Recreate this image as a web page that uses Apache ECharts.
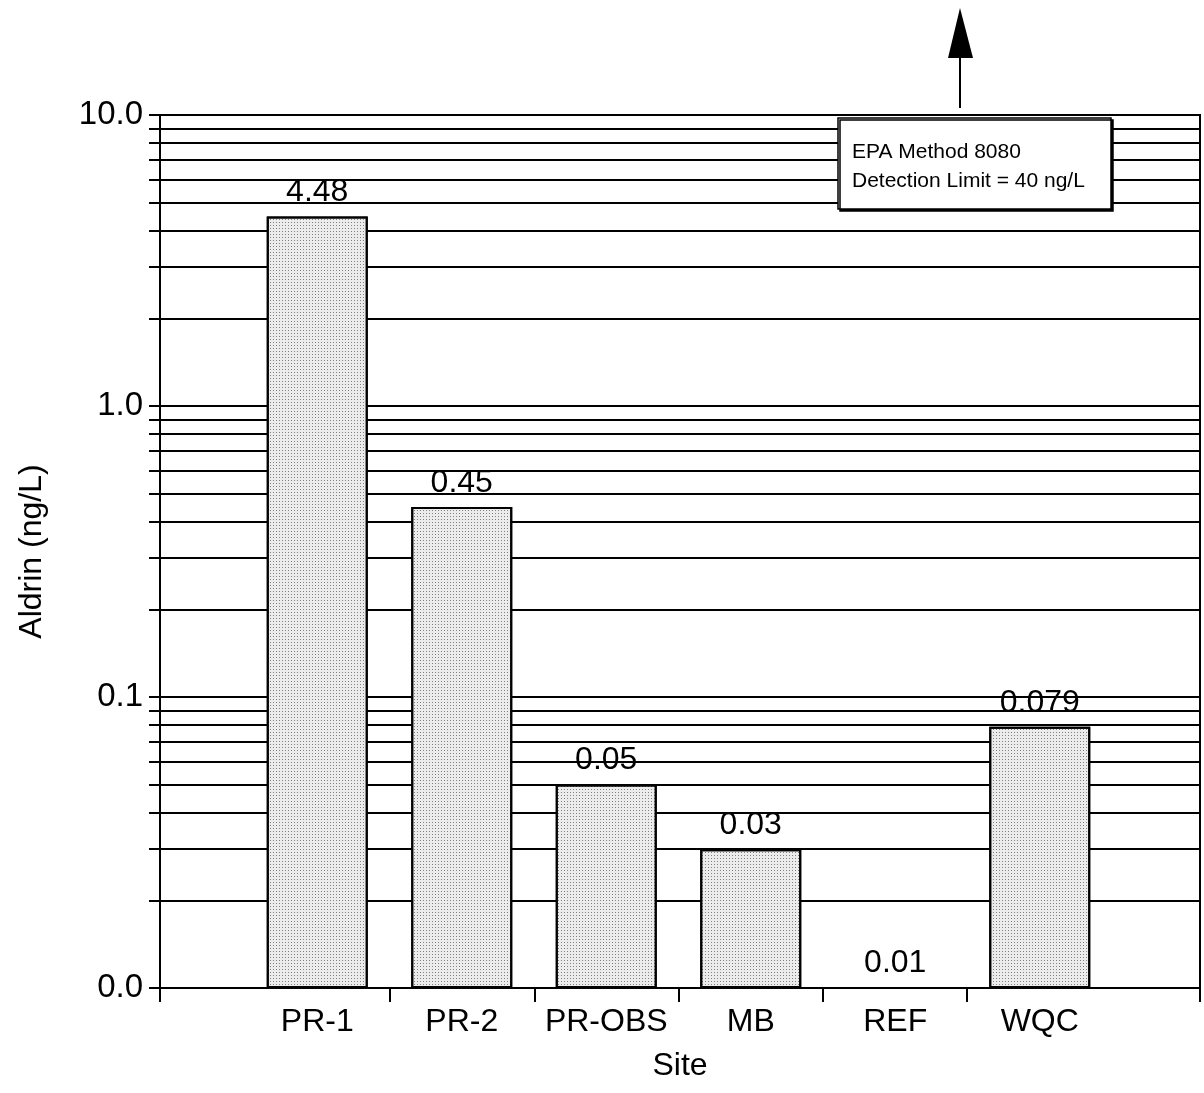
<!DOCTYPE html>
<html>
<head>
<meta charset="utf-8">
<style>
  html, body { margin: 0; padding: 0; background: #fff; }
  #chart-container { width: 1204px; height: 1093px; }
</style>
<script src="https://cdn.jsdelivr.net/npm/echarts@6/dist/echarts.min.js"></script>
</head>
<body>
<div id="chart-container"></div>
<script>
var sites = ['PR-1', 'PR-2', 'PR-OBS', 'MB', 'REF', 'WQC'];
var aldrin = [4.48, 0.45, 0.05, 0.03, 0.01, 0.079];
var yTickLabels = ['0.0', '0.1', '1.0', '10.0'];
var gridValues = [
  0.01, 0.02, 0.03, 0.04, 0.05, 0.06, 0.07, 0.08, 0.09,
  0.1, 0.2, 0.3, 0.4, 0.5, 0.6, 0.7, 0.8, 0.9,
  1, 2, 3, 4, 5, 6, 7, 8, 9, 10
];
var boundaryTicks = ['', '', '', '', ''];

var dom = document.getElementById('chart-container');
var myChart = echarts.init(dom, null, { renderer: 'canvas' });

var font = 'Liberation Sans, Arial, Helvetica, sans-serif';
var top_ = 115, bottom_ = 105;

var option = {
  animation: false,
  backgroundColor: '#fff',
  textStyle: { fontFamily: font, color: '#000' },
  grid: [
    // bars
    { left: 245, right: 92, top: top_, bottom: bottom_ },
    // horizontal rules (with ticks sticking out left)
    { left: 149, right: 4, top: top_, bottom: bottom_ },
    // frame and axes
    { left: 160, right: 4, top: top_, bottom: bottom_, show: true,
      borderColor: '#000', borderWidth: 2, backgroundColor: 'transparent' },
    // ticks between categories
    { left: 390, right: 237, top: top_, bottom: bottom_ }
  ],
  xAxis: [
    {
      gridIndex: 0,
      type: 'category',
      data: sites,
      boundaryGap: true,
      axisLine: { show: false },
      axisTick: { show: false },
      axisLabel: { interval: 0, fontSize: 32, color: '#000', margin: 18, fontFamily: font }
    },
    { gridIndex: 1, type: 'value', min: 0, max: 1, show: false },
    {
      gridIndex: 2,
      type: 'value',
      min: 0,
      max: 1,
      interval: 1,
      axisLine: { show: true, lineStyle: { color: '#000', width: 2 } },
      axisTick: { show: true, length: 14, lineStyle: { color: '#000', width: 2 } },
      axisLabel: { show: false },
      splitLine: { show: false },
      name: 'Site',
      nameLocation: 'middle',
      nameGap: 62,
      nameTextStyle: { fontSize: 32, color: '#000', fontFamily: font }
    },
    {
      gridIndex: 3,
      type: 'category',
      data: boundaryTicks,
      boundaryGap: false,
      axisLine: { show: false },
      axisTick: { show: true, length: 14, lineStyle: { color: '#000', width: 2 } },
      axisLabel: { show: false },
      splitLine: { show: false }
    }
  ],
  yAxis: [
    { gridIndex: 0, type: 'log', min: 0.01, max: 10, startValue: 0.01, show: false },
    { gridIndex: 1, type: 'log', min: 0.01, max: 10, show: false },
    {
      gridIndex: 2,
      type: 'log',
      logBase: 10,
      min: 0.01,
      max: 10,
      axisLine: { show: true, lineStyle: { color: '#000', width: 2 } },
      axisTick: { show: false },
      splitLine: { show: false },
      axisLabel: {
        fontSize: 33,
        color: '#000',
        margin: 17,
        fontFamily: font,
        formatter: function (v) {
          return yTickLabels[Math.round(Math.log10(v)) + 2];
        }
      },
      name: 'Aldrin (ng/L)',
      nameLocation: 'middle',
      nameGap: 112,
      nameTextStyle: { fontSize: 32, color: '#000', fontFamily: font }
    },
    { gridIndex: 3, type: 'value', min: 0, max: 1, show: false }
  ],
  series: [
    {
      type: 'line',
      xAxisIndex: 1,
      yAxisIndex: 1,
      data: [],
      z: 1,
      markLine: {
        silent: true,
        symbol: ['none', 'none'],
        label: { show: false },
        lineStyle: { color: '#000', width: 2, type: 'solid' },
        data: gridValues.map(function (v) { return { yAxis: v }; })
      }
    },
    {
      name: 'Aldrin',
      type: 'bar',
      xAxisIndex: 0,
      yAxisIndex: 0,
      barWidth: 101,
      z: 5,
      data: aldrin,
      itemStyle: {
        color: '#ececec',
        borderColor: '#000',
        borderWidth: 2,
        decal: {
          symbol: 'rect',
          symbolSize: 1,
          color: 'rgba(0,0,0,0.45)',
          dashArrayX: [1, 2],
          dashArrayY: [1, 2]
        }
      },
      label: {
        show: true,
        position: 'top',
        distance: 8,
        fontSize: 32,
        color: '#000',
        fontFamily: font
      }
    }
  ],
  graphic: [
    {
      type: 'line',
      z: 100,
      shape: { x1: 960, y1: 108, x2: 960, y2: 56 },
      style: { stroke: '#000', lineWidth: 2 }
    },
    {
      type: 'polygon',
      z: 100,
      shape: { points: [[960, 8], [948, 58], [973, 58]] },
      style: { fill: '#000' }
    },
    {
      type: 'rect',
      z: 100,
      shape: { x: 838, y: 118, width: 273, height: 91 },
      style: {
        fill: '#fff',
        stroke: '#000',
        lineWidth: 1.5,
        shadowColor: '#000',
        shadowOffsetX: 2,
        shadowOffsetY: 2,
        shadowBlur: 0
      }
    },
    {
      type: 'text',
      z: 101,
      left: 852,
      top: 142,
      style: { text: 'EPA Method 8080', fontSize: 21, fontFamily: font, fill: '#000' }
    },
    {
      type: 'text',
      z: 101,
      left: 852,
      top: 171,
      style: { text: 'Detection Limit = 40 ng/L', fontSize: 21, fontFamily: font, fill: '#000' }
    }
  ]
};

myChart.setOption(option);
window.addEventListener('resize', myChart.resize);
</script>
</body>
</html>
